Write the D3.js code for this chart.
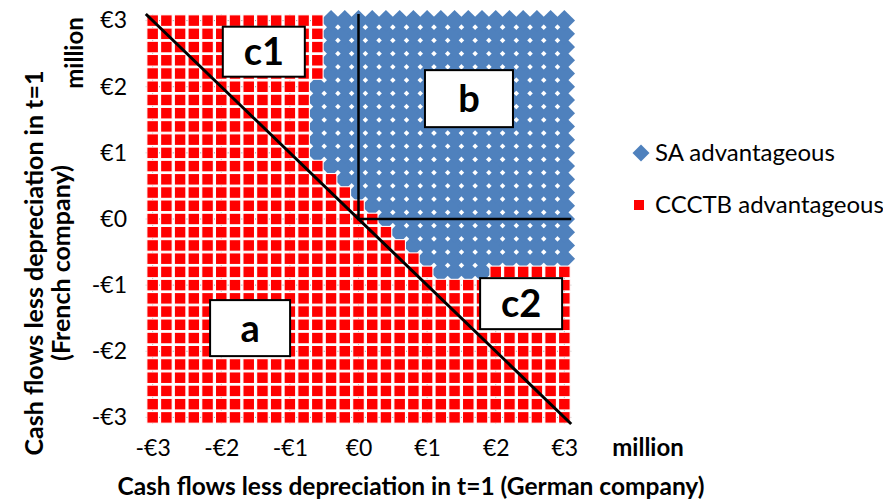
<!DOCTYPE html>
<html>
<head>
<meta charset="utf-8">
<script src="https://cdn.jsdelivr.net/npm/d3@7/dist/d3.min.js"></script>
<style>
body { margin: 0; background: #fff; }
svg { display: block; font-family: Lato, "Noto Sans", sans-serif; }
</style>
</head>
<body>
<svg id="chart" width="883" height="501"></svg>
<script>
//grid of cash flows (million €) for both companies
var gridX = [-3, -2.8, -2.6, -2.4, -2.2, -2, -1.8, -1.6, -1.4, -1.2, -1, -0.8, -0.6, -0.4, -0.2, 0,
	0.2, 0.4, 0.6, 0.8, 1, 1.2, 1.4, 1.6, 1.8, 2, 2.2, 2.4, 2.6, 2.8, 3];
var gridY = [-3, -2.8, -2.6, -2.4, -2.2, -2, -1.8, -1.6, -1.4, -1.2, -1, -0.8, -0.6, -0.4, -0.2, 0,
	0.2, 0.4, 0.6, 0.8, 1, 1.2, 1.4, 1.6, 1.8, 2, 2.2, 2.4, 2.6, 2.8, 3];

//rows where SA is advantageous, with the first and last x of that row
var saRowY  = [3, 2.8, 2.6, 2.4, 2.2, 2, 1.8, 1.6, 1.4, 1.2, 1, 0.8, 0.6, 0.4, 0.2, 0, -0.2, -0.4, -0.6, -0.8];
var saFromX = [-0.4, -0.4, -0.4, -0.4, -0.4, -0.6, -0.6, -0.6, -0.6, -0.6, -0.6, -0.4, -0.2, 0, 0.2, 0.4, 0.6, 0.8, 1, 1.2];
var saToX   = [3, 3, 3, 3, 3, 3, 3, 3, 3, 3, 3, 3, 3, 3, 3, 3, 3, 3, 3, 1.8];

var tickValues = [-3, -2, -1, 0, 1, 2, 3];
var tickLabels = ["-€3", "-€2", "-€1", "€0", "€1", "€2", "€3"];
var seriesNames = ["SA advantageous", "CCCTB advantageous"];

//region labels (in chart units)
var regionNames = ["c1", "b", "c2", "a"];
var regionX = [-1.38, 1.61, 2.37, -1.58];
var regionY = [2.53, 1.82, -1.28, -1.65];

var blue = "#4f81bd";
	red = "#ff0000";
	gridColor = "#8c8c8c";

var svg = d3.select("#chart");

var x = d3.scaleLinear()
	.domain([-3.1, 3.1])
	.range([145.8, 571.2]);
var y = d3.scaleLinear()
	.domain([-3.1, 3.1])
	.range([424, 14]);

//build the point list
var saPoints = [], ccctbPoints = [];
gridY.forEach(function(gy){
	var r = saRowY.findIndex(function(v){ return Math.abs(v - gy) < 1e-6; });
	gridX.forEach(function(gx){
		if (r >= 0 && gx > saFromX[r] - 1e-6 && gx < saToX[r] + 1e-6) {
			saPoints.push([gx, gy]);
		} else {
			ccctbPoints.push([gx, gy]);
		}
	});
});

//gridlines
svg.append("g").selectAll("line.v")
	.data(tickValues)
	.enter().append("line")
	.attr("x1", function(d){ return x(d); })
	.attr("x2", function(d){ return x(d); })
	.attr("y1", y(-3.1))
	.attr("y2", y(3.1))
	.attr("stroke", gridColor)
	.attr("stroke-width", 1);
svg.append("g").selectAll("line.h")
	.data(tickValues)
	.enter().append("line")
	.attr("y1", function(d){ return y(d); })
	.attr("y2", function(d){ return y(d); })
	.attr("x1", x(-3.1))
	.attr("x2", x(3.1))
	.attr("stroke", gridColor)
	.attr("stroke-width", 1);

//SA diamonds
var h = 10.7;
svg.append("g").selectAll("path")
	.data(saPoints)
	.enter().append("path")
	.attr("d", "M0," + (-h) + "L" + h + ",0L0," + h + "L" + (-h) + ",0Z")
	.attr("transform", function(d){ return "translate(" + x(d[0]) + "," + y(d[1]) + ")"; })
	.attr("fill", blue);

//CCCTB squares
var s = 11.6;
svg.append("g").selectAll("rect")
	.data(ccctbPoints)
	.enter().append("rect")
	.attr("x", function(d){ return x(d[0]) - s / 2; })
	.attr("y", function(d){ return y(d[1]) - s / 2; })
	.attr("width", s)
	.attr("height", s)
	.attr("fill", red)
	.attr("stroke", "#fff")
	.attr("stroke-width", 1.1);

//boundary lines
svg.append("line")
	.attr("x1", x(-3.1)).attr("y1", y(3.1))
	.attr("x2", x(3.1)).attr("y2", y(-3.1))
	.attr("stroke", "#000").attr("stroke-width", 3);
svg.append("path")
	.attr("d", "M" + x(0) + "," + y(3.1) + "L" + x(0) + "," + y(0) + "L" + x(3.1) + "," + y(0))
	.attr("fill", "none")
	.attr("stroke", "#000").attr("stroke-width", 2.5);

//region boxes
var boxW = [82, 88, 82, 80], boxH = [50, 57, 51, 56];
var boxes = svg.append("g").selectAll("g")
	.data(regionNames)
	.enter().append("g")
	.attr("transform", function(d, i){ return "translate(" + x(regionX[i]) + "," + y(regionY[i]) + ")"; });
boxes.append("rect")
	.attr("x", function(d, i){ return -boxW[i] / 2; })
	.attr("y", function(d, i){ return -boxH[i] / 2; })
	.attr("width", function(d, i){ return boxW[i]; })
	.attr("height", function(d, i){ return boxH[i]; })
	.attr("fill", "#fff")
	.attr("stroke", "#000")
	.attr("stroke-width", 2);
boxes.append("text")
	.attr("text-anchor", "middle")
	.attr("dy", "0.36em")
	.attr("font-size", "38px")
	.attr("font-weight", "bold")
	.text(function(d){ return d; });

//axes
var xAxis = d3.axisBottom(x)
	.tickValues(tickValues)
	.tickFormat(function(d, i){ return tickLabels[i]; })
	.tickSize(0)
	.tickPadding(4);
var yAxis = d3.axisLeft(y)
	.tickValues(tickValues)
	.tickFormat(function(d, i){ return tickLabels[i]; })
	.tickSize(0)
	.tickPadding(4);

var gx = svg.append("g").attr("transform", "translate(0,436)").call(xAxis);
var gy = svg.append("g").attr("transform", "translate(131,0)").call(yAxis);
[gx, gy].forEach(function(g){
	g.select(".domain").remove();
	g.selectAll("text")
		.attr("font-family", "Lato, 'Noto Sans', sans-serif")
		.attr("font-size", "23px")
		.attr("fill", "#000");
});

//axis titles
svg.append("text")
	.attr("x", 411).attr("y", 495)
	.attr("text-anchor", "middle")
	.attr("font-size", "24.5px").attr("font-weight", "bold")
	.text("Cash flows less depreciation in t=1 (German company)");
svg.append("text")
	.attr("x", 648).attr("y", 456)
	.attr("text-anchor", "middle")
	.attr("font-size", "24px").attr("font-weight", "bold")
	.text("million");

var yTitle = svg.append("text")
	.attr("transform", "translate(0,263) rotate(-90)")
	.attr("text-anchor", "middle")
	.attr("font-size", "25px").attr("font-weight", "bold");
yTitle.append("tspan").attr("x", 0).attr("y", 43).text("Cash flows less depreciation in t=1");
yTitle.append("tspan").attr("x", 0).attr("y", 70).text("(French company)");
svg.append("text")
	.attr("transform", "translate(83,53) rotate(-90)")
	.attr("text-anchor", "middle")
	.attr("font-size", "24px").attr("font-weight", "bold")
	.text("million");

//legend
var legend = svg.append("g");
legend.append("path")
	.attr("d", "M0,-8.5L8.5,0L0,8.5L-8.5,0Z")
	.attr("transform", "translate(641,153)")
	.attr("fill", blue);
legend.append("rect")
	.attr("x", 634).attr("y", 200)
	.attr("width", 10).attr("height", 10)
	.attr("fill", red);
legend.selectAll("text")
	.data(seriesNames)
	.enter().append("text")
	.attr("x", 655)
	.attr("y", function(d, i){ return i == 0 ? 153 : 205; })
	.attr("dy", "0.35em")
	.attr("font-size", "24px")
	.text(function(d){ return d; });
</script>
</body>
</html>
